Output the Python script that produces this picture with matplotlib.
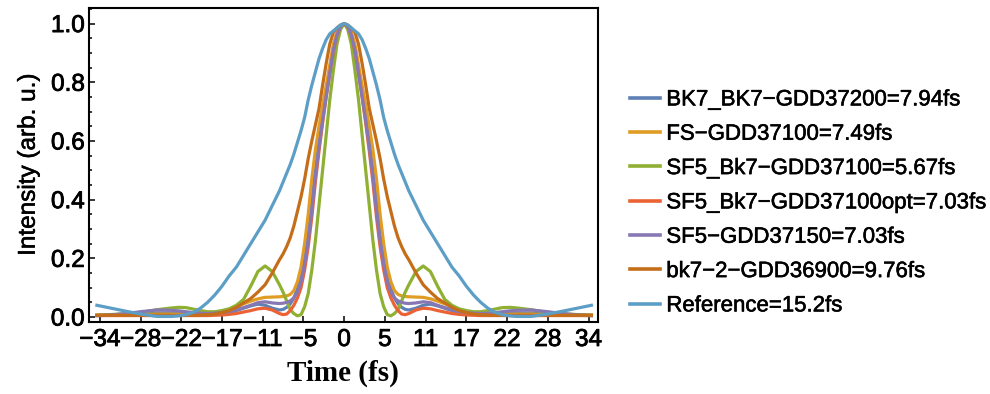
import numpy as np
import matplotlib
matplotlib.use("Agg")
import matplotlib.pyplot as plt
import matplotlib.patheffects as pe
from matplotlib.ticker import MultipleLocator

plt.rcParams['font.family'] = ['Liberation Sans', 'DejaVu Sans']

# time grid (fs), right half; curves are symmetric about t = 0
t_half = [0, 0.5, 1, 1.5, 2, 2.5, 3, 3.5, 4, 4.5, 5, 5.5, 6, 6.5, 7, 7.5, 8, 8.5, 9,
          10, 11, 12, 13, 14, 15, 16, 17, 18, 19, 20, 21, 22, 23, 24, 26, 28, 30, 32, 34.4]

bk7_bk7 = [1.0, 0.99, 0.965, 0.915, 0.84, 0.76, 0.68, 0.59, 0.50, 0.39, 0.29, 0.20, 0.14, 0.095,
           0.065, 0.045, 0.033, 0.026, 0.024, 0.030, 0.040, 0.044, 0.038, 0.030, 0.022, 0.016,
           0.012, 0.010, 0.009, 0.009, 0.010, 0.012, 0.013, 0.014, 0.014, 0.011, 0.008, 0.006, 0.005]
fs = [1.0, 0.99, 0.97, 0.93, 0.86, 0.79, 0.72, 0.65, 0.57, 0.47, 0.35, 0.25, 0.17, 0.12,
      0.09, 0.077, 0.072, 0.070, 0.069, 0.068, 0.067, 0.062, 0.054, 0.045, 0.035, 0.025,
      0.018, 0.014, 0.012, 0.011, 0.010, 0.010, 0.010, 0.010, 0.010, 0.009, 0.008, 0.007, 0.007]
sf5_bk7 = [1.0, 0.98, 0.93, 0.84, 0.74, 0.62, 0.50, 0.38, 0.26, 0.16, 0.08, 0.035, 0.008, 0.004,
           0.012, 0.025, 0.055, 0.085, 0.11, 0.155, 0.174, 0.155, 0.105, 0.06, 0.04, 0.028,
           0.022, 0.018, 0.018, 0.022, 0.027, 0.032, 0.033, 0.031, 0.025, 0.017, 0.012, 0.009, 0.006]
sf5_bk7_opt = [1.0, 0.99, 0.96, 0.905, 0.83, 0.75, 0.66, 0.565, 0.46, 0.34, 0.24, 0.16, 0.10, 0.065,
               0.040, 0.022, 0.010, 0.008, 0.012, 0.024, 0.030, 0.028, 0.022, 0.017, 0.012, 0.009,
               0.007, 0.006, 0.005, 0.005, 0.005, 0.005, 0.005, 0.005, 0.005, 0.005, 0.005, 0.005, 0.005]
sf5 = [1.0, 0.99, 0.96, 0.91, 0.83, 0.75, 0.67, 0.58, 0.48, 0.36, 0.26, 0.18, 0.12, 0.085,
       0.065, 0.055, 0.050, 0.047, 0.046, 0.048, 0.052, 0.049, 0.040, 0.032, 0.025, 0.019,
       0.015, 0.013, 0.012, 0.013, 0.015, 0.018, 0.021, 0.023, 0.024, 0.019, 0.013, 0.008, 0.005]
bk7_2 = [1.0, 0.995, 0.985, 0.97, 0.93, 0.864, 0.79, 0.71, 0.655, 0.60, 0.54, 0.47, 0.41, 0.36,
         0.31, 0.27, 0.24, 0.215, 0.195, 0.15, 0.11, 0.085, 0.063, 0.048, 0.033, 0.022,
         0.015, 0.010, 0.008, 0.007, 0.006, 0.006, 0.006, 0.006, 0.006, 0.006, 0.006, 0.006, 0.006]
reference = [1.0, 0.995, 0.985, 0.975, 0.965, 0.945, 0.915, 0.88, 0.835, 0.79, 0.74, 0.68, 0.635, 0.595,
             0.555, 0.52, 0.49, 0.46, 0.43, 0.38, 0.33, 0.29, 0.25, 0.21, 0.17, 0.14,
             0.105, 0.075, 0.05, 0.03, 0.016, 0.008, 0.004, 0.002, 0.002, 0.009, 0.018, 0.028, 0.04]

labels = ['BK7_BK7\u2212GDD37200=7.94fs', 'FS\u2212GDD37100=7.49fs',
          'SF5_Bk7\u2212GDD37100=5.67fs', 'SF5_Bk7\u2212GDD37100opt=7.03fs',
          'SF5\u2212GDD37150=7.03fs', 'bk7\u22122\u2212GDD36900=9.76fs', 'Reference=15.2fs']
colors = ['#5E81B5', '#E19C24', '#8FB032', '#EB6235', '#8778B3', '#C56E1A', '#5D9EC7']
series = [bk7_bk7, fs, sf5_bk7, sf5_bk7_opt, sf5, bk7_2, reference]


def mirror(half):
    half = np.asarray(half, dtype=float)
    return np.concatenate([half[:0:-1], half])


t = np.concatenate([-np.asarray(t_half[:0:-1]), np.asarray(t_half)])

# slightly heavier text, like the original export
heavy = [pe.withStroke(linewidth=0.6, foreground='black')]

fig = plt.figure(figsize=(9.9, 3.94), dpi=100)
ax = fig.add_axes([0.0899, 0.1827, 0.514, 0.797])

for y, c, lab in zip(series, colors, labels):
    ax.plot(t, mirror(y), color=c, lw=2.3, label=lab, solid_joinstyle='round')

ax.set_xlim(-35.5, 35.3)
ax.set_ylim(-0.017, 1.053)

xt = np.arange(-6, 7) * 34 / 6
ax.set_xticks(xt)
ax.set_xticklabels([str(int(v)).replace('-', '\u2212') for v in xt])
ax.set_yticks(np.arange(0, 1.01, 0.2))
ax.set_yticklabels(['%.1f' % v for v in np.arange(0, 1.01, 0.2)])
ax.yaxis.set_minor_locator(MultipleLocator(0.05))

ax.tick_params(axis='both', which='both', direction='in', top=False, right=False,
               labelsize=17.5, width=1.1)
ax.tick_params(axis='x', which='major', length=4, pad=5)
ax.tick_params(axis='y', which='major', length=4, pad=3)
ax.tick_params(axis='y', which='minor', length=2)
for lab in ax.get_xticklabels() + ax.get_yticklabels():
    lab.set_path_effects(heavy)
for s in ax.spines.values():
    s.set_linewidth(1.5)

ax.set_xlabel('Time (fs)', family='Liberation Serif', fontweight='bold', fontsize=21, labelpad=6)
ylab = ax.set_ylabel('Intensity (arb. u.)', fontsize=17.5, labelpad=8)
ylab.set_path_effects([pe.withStroke(linewidth=0.4, foreground='black')])

leg = fig.legend(loc='center left', bbox_to_anchor=(0.636, 0.485), frameon=False, fontsize=16,
                 handlelength=1.35, handletextpad=0.3, labelspacing=0.6, borderpad=0, borderaxespad=0)
for txt in leg.get_texts():
    txt.set_path_effects([pe.withStroke(linewidth=0.4, foreground='black')])
for ln in leg.get_lines():
    ln.set_linewidth(2.6)

fig.savefig('out.png', dpi=100, facecolor='white')
